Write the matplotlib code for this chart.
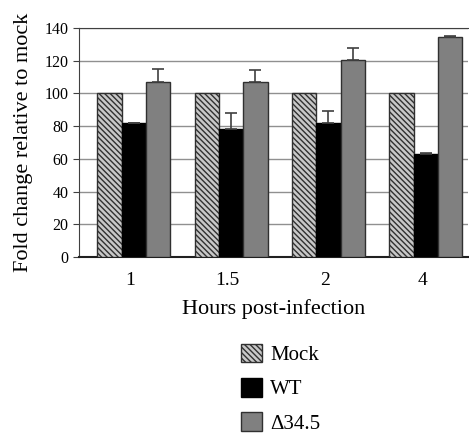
import matplotlib
matplotlib.use("Agg")
import matplotlib.pyplot as plt
import numpy as np

categories = ["1", "1.5", "2", "4"]
mock = [100, 100, 100, 100]
wt = [82, 78, 82, 63]
wt_err = [0, 10, 7, 0.5]
d345 = [107, 107, 120.5, 134.5]
d345_err = [8, 7.5, 7.5, 0.5]
series_names = ["Mock", "WT", "\u039434.5"]

plt.rcParams['font.family'] = ['Liberation Serif', 'DejaVu Serif']
plt.rcParams['hatch.color'] = '#404040'
plt.rcParams['hatch.linewidth'] = 1.0

fig = plt.figure(figsize=(4.69, 4.44), dpi=100)
ax = fig.add_axes([0.168, 0.421, 0.830, 0.516])

x = np.arange(len(categories))
w = 0.25
off = 0.19
b1 = ax.bar(x + off, mock, w, align='edge', facecolor='#c8c8c8', edgecolor='#303030',
            hatch='\\' * 6, linewidth=1.0, label=series_names[0], zorder=3)
b2 = ax.bar(x + off + w, wt, w, align='edge', facecolor='black', edgecolor='black',
            linewidth=1.0, label=series_names[1], zorder=3)
b3 = ax.bar(x + off + 2 * w, d345, w, align='edge', facecolor='#808080', edgecolor='#303030',
            linewidth=1.0, label=series_names[2], zorder=3)
ax.errorbar(x + off + 1.5 * w, wt, yerr=[np.zeros(4), wt_err], fmt='none', ecolor='#404040',
            elinewidth=1.2, capsize=4, capthick=1.2, zorder=4)
ax.errorbar(x + off + 2.5 * w, d345, yerr=[np.zeros(4), d345_err], fmt='none', ecolor='#404040',
            elinewidth=1.2, capsize=4, capthick=1.2, zorder=4)

ax.set_xlim(0, 4)
ax.set_ylim(0, 140)
ax.set_yticks(range(0, 141, 20))
ax.set_xticks(x + 0.53)
ax.set_xticklabels(categories)
ax.tick_params(axis='x', length=0, labelsize=14, pad=11)
ax.tick_params(axis='y', length=4, labelsize=11.5, direction='out', color='#404040')
ax.yaxis.grid(True, color='#909090', linewidth=1.0, zorder=0)
ax.set_axisbelow(True)
ax.spines['right'].set_visible(False)
ax.spines['top'].set_color('#404040')
ax.spines['left'].set_color('#404040')
ax.spines['bottom'].set_color('#202020')
ax.spines['bottom'].set_linewidth(1.5)

ax.set_ylabel("Fold change relative to mock", fontsize=16, labelpad=8)
ax.set_xlabel("Hours post-infection", fontsize=16, labelpad=7)

fig.legend(handles=[b1, b2, b3], labels=series_names, loc='upper left',
           bbox_to_anchor=(0.514, 0.226), frameon=False, fontsize=15,
           handlelength=1.0, handleheight=1.0, labelspacing=0.62, handletextpad=0.4,
           borderaxespad=0, borderpad=0)

fig.savefig("out.png", dpi=100)
